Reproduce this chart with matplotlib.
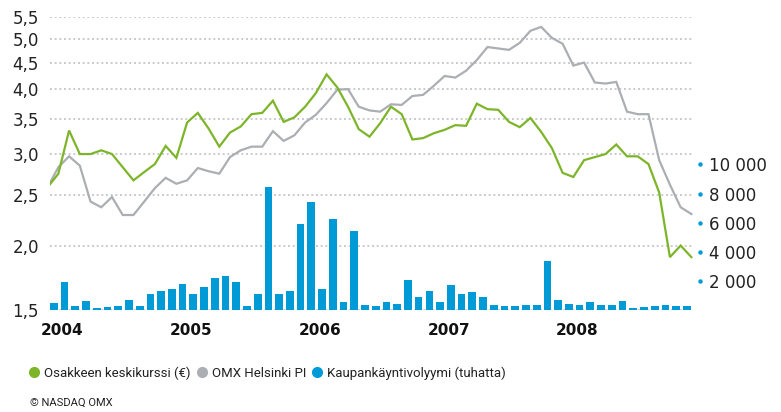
import matplotlib
matplotlib.use("Agg")
import matplotlib.pyplot as plt
import numpy as np
from matplotlib.lines import Line2D
from matplotlib.ticker import FixedLocator, FuncFormatter, NullLocator

# Kuukausittaiset arvot 2004-2008
osake_kurssi = [2.59, 2.75, 3.33, 3.00, 3.00, 3.05, 3.00, 2.83, 2.67, 2.77,
                2.87, 3.11, 2.95, 3.45, 3.60, 3.36, 3.10, 3.30, 3.39, 3.58,
                3.60, 3.80, 3.46, 3.53, 3.70, 3.93, 4.27, 4.03, 3.70, 3.35,
                3.24, 3.44, 3.70, 3.58, 3.20, 3.22, 3.29, 3.34, 3.41, 3.40,
                3.75, 3.66, 3.65, 3.46, 3.38, 3.52, 3.31, 3.08, 2.76, 2.71,
                2.92, 2.96, 3.00, 3.13, 2.97, 2.97, 2.87, 2.53, 1.90, 2.00,
                1.90]
omx_helsinki = [2.59, 2.83, 2.97, 2.85, 2.43, 2.37, 2.48, 2.29, 2.29, 2.43,
                2.58, 2.70, 2.63, 2.67, 2.82, 2.78, 2.75, 2.96, 3.05, 3.10,
                3.10, 3.32, 3.18, 3.26, 3.45, 3.57, 3.76, 3.99, 4.00, 3.70,
                3.64, 3.62, 3.74, 3.73, 3.88, 3.90, 4.06, 4.24, 4.21, 4.34,
                4.55, 4.82, 4.79, 4.76, 4.91, 5.18, 5.27, 5.02, 4.89, 4.44,
                4.50, 4.12, 4.10, 4.13, 3.62, 3.58, 3.58, 2.92, 2.62, 2.37,
                2.30]
volyymi = [480, 1920, 340, 620, 200, 270, 340, 690, 340, 1160,
           1300, 1500, 1780, 1160, 1640, 2190, 2330, 1920, 340, 1160,
           8420, 1160, 1300, 5890, 7400, 1440, 6230, 550, 5410, 380,
           310, 580, 450, 2090, 920, 1340, 580, 1750, 1130, 1270,
           920, 380, 310, 310, 380, 380, 3390, 720, 450, 380,
           580, 380, 380, 650, 170, 240, 310, 380, 310, 310]

vuodet = ["2004", "2005", "2006", "2007", "2008"]
kurssi_tikit = [1.5, 2.0, 2.5, 3.0, 3.5, 4.0, 4.5, 5.0, 5.5]
volyymi_tikit = [2000, 4000, 6000, 8000, 10000]

VIHREA = "#7db52a"
HARMAA = "#abaeb2"
SININEN = "#009bd6"
TEKSTI = "#222222"
KAPEA = ["Roboto", "DejaVu Sans"]

fig = plt.figure(figsize=(7.81, 4.12), dpi=100)
ax = fig.add_axes([0.064, 0.2464, 0.8233, 0.7117])
ax_vol = ax.twinx()
ax_line = ax.twinx()

for a in (ax, ax_vol, ax_line):
    for s in a.spines.values():
        s.set_visible(False)

# Pohja-akseli: ruudukko ja vasemman puolen asteikko
ax.set_yscale("log")
ax.set_ylim(1.5, 5.5)
ax.set_xlim(-0.36, 59.57)
ax.yaxis.set_major_locator(FixedLocator(kurssi_tikit))
ax.yaxis.set_minor_locator(NullLocator())
ax.yaxis.set_major_formatter(FuncFormatter(lambda v, p: f"{v:.1f}".replace(".", ",")))
ax.tick_params(axis="y", length=0, pad=8, labelsize=12, labelcolor=TEKSTI)
ax.grid(axis="y", color="#c8cbce", linestyle=(0, (1, 1.4)), linewidth=1.4)

x_vuodet = np.arange(len(vuodet)) * 12 + 0.8
ax.set_xticks(x_vuodet)
ax.set_xticklabels(vuodet, fontweight="bold", fontsize=11)
ax.tick_params(axis="x", length=0, pad=9, labelcolor="#111111")

# Volyymipylväät
x_bar = np.arange(len(volyymi))
ax_vol.bar(x_bar, volyymi, width=0.72, color=SININEN, linewidth=0)
ax_vol.set_ylim(0, 20070)
ax_vol.yaxis.set_major_locator(FixedLocator(volyymi_tikit))
ax_vol.yaxis.set_major_formatter(FuncFormatter(lambda v, p: f"{v:,.0f}".replace(",", " ")))
ax_vol.spines["right"].set_position(("outward", 5))
ax_vol.tick_params(axis="y", length=3, pad=3.5, labelsize=12, labelcolor=TEKSTI,
                   color=SININEN, direction="out")

# Kurssiviivat
x_line = np.arange(len(osake_kurssi)) - 0.58
ax_line.set_yscale("log")
ax_line.set_ylim(1.5, 5.5)
ax_line.yaxis.set_visible(False)
ax_line.plot(x_line, omx_helsinki, color=HARMAA, linewidth=1.6, solid_joinstyle="miter")
ax_line.plot(x_line, osake_kurssi, color=VIHREA, linewidth=1.6, solid_joinstyle="miter")
ax_line.set_xlim(-0.36, 59.57)

# Oikean asteikon pisteet
for t in ax_vol.yaxis.get_major_ticks():
    t.tick2line.set_marker("o")
    t.tick2line.set_markersize(3.2)
    t.tick2line.set_markeredgewidth(0)
    t.tick2line.set_markerfacecolor(SININEN)

kahvat = [Line2D([], [], linestyle="none", marker="o", markersize=7, color=c)
          for c in (VIHREA, HARMAA, SININEN)]
fig.legend(kahvat,
           ["Osakkeen keskikurssi (€)", "OMX Helsinki PI", "Kaupankäyntivolyymi (tuhatta)"],
           loc="center left", bbox_to_anchor=(0.036, 1 - 373 / 412), ncol=3,
           frameon=False, borderpad=0, borderaxespad=0, handlelength=0.9,
           handletextpad=0.3, columnspacing=0.4, prop={"family": KAPEA, "size": 9.5},
           labelcolor=TEKSTI)

fig.text(30 / 781, 1 - 403 / 412, "© NASDAQ OMX", va="center", ha="left",
         fontsize=8, family=KAPEA, color=TEKSTI)

fig.savefig("out.png", dpi=100)
